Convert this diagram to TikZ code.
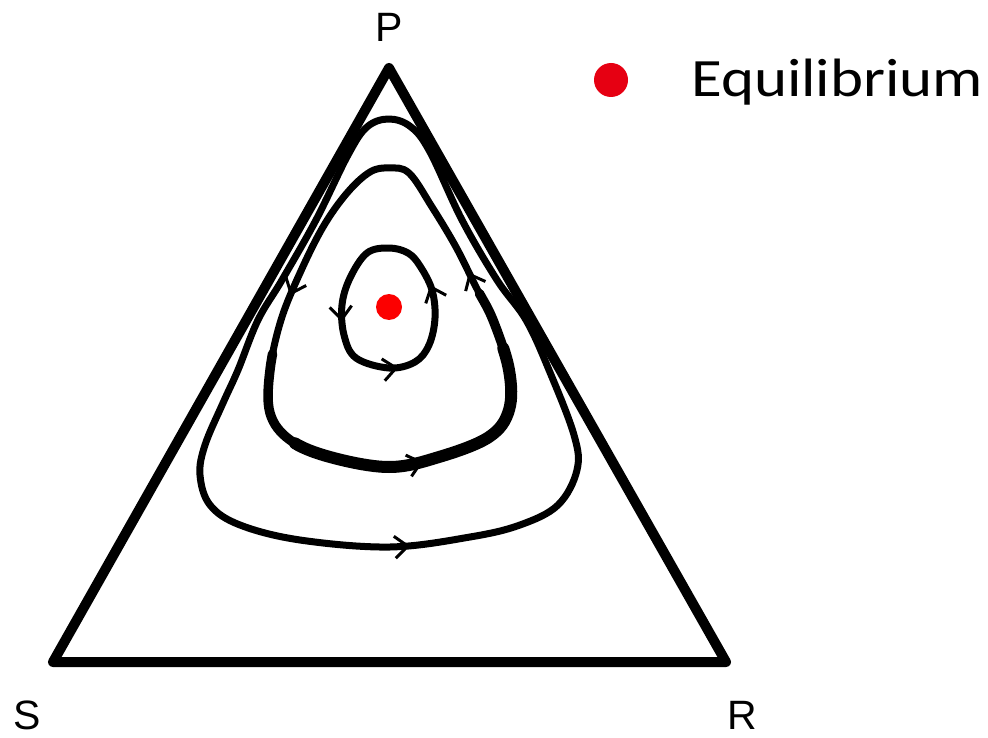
\documentclass[tikz,border=0pt]{standalone}
\usepackage{graphicx}
\usepackage{fontspec}
\newfontfamily\vlabelfont{Liberation Sans}
\newfontfamily\legendfont{Carlito}
\usetikzlibrary{decorations.markings,arrows.meta}
\definecolor{eqred}{RGB}{230,0,18}
\definecolor{dotred}{RGB}{252,0,0}
\newcommand\orbittip{\arrow{Straight Barb[length=13pt,width=22pt,line width=3pt]}}
\tikzset{
  vlabel/.style={font=\vlabelfont\fontsize{41}{48}\selectfont,inner sep=0pt,anchor=base},
  orbitline/.style={draw=black,line width=7pt,line join=round},
  triline/.style={draw=black,line width=10pt,line join=round},
}
\begin{document}
\begin{tikzpicture}[x=1pt,y=-1pt]
\useasboundingbox (0,0) rectangle (988,738);
% simplex
\coordinate (vP) at (389,68);
\coordinate (vS) at (53,662);
\coordinate (vR) at (726,662);
\draw[triline] (vP) -- (vS) -- (vR) -- cycle;
\node[vlabel] (labP) at (389,42) {P};
\node[vlabel] (labS) at (27,729) {S};
\node[vlabel] (labR) at (742,729) {R};
% outer orbit
\draw[orbitline,postaction={decorate},decoration={markings,
   mark=at position 0.50 with {\orbittip}}]
  plot[smooth cycle,tension=0.6] coordinates {(389,119) (367,127) (348,155) (316,220) (282,280) (258,320) (238,370) (223,403) (205,445) (200,475) (210,505) (240,525) (300,540) (390,547) (470,537) (520,525) (558,505) (577,470) (574,435) (549,370) (526,320) (497,280) (462,220) (430,152) (411,127)};
% middle orbit
\def\midorbit{plot[smooth cycle,tension=0.6] coordinates {(389,168) (370,172) (347,193) (323,227) (300,273) (281,320) (270,370) (270,413) (290,440) (330,457) (389,467) (439,457) (489,437) (509,410) (509,370) (493,320) (476,287) (456,247) (432,207) (409,173)}}
\draw[draw=black,line width=9.5pt,line cap=round,dash pattern=on 460pt off 2000pt,dash phase=2250pt] \midorbit;
\draw[draw=black,line width=12pt,line cap=round,dash pattern=on 300pt off 2000pt,dash phase=1990pt] \midorbit;
\draw[orbitline,postaction={decorate},decoration={markings,
   mark=at position 0.175 with {\orbittip},
   mark=at position 0.52 with {\orbittip},
   mark=at position 0.815 with {\orbittip}}] \midorbit;
% inner orbit
\draw[orbitline,postaction={decorate},decoration={markings,
   mark=at position 0.22 with {\orbittip},
   mark=at position 0.465 with {\orbittip},
   mark=at position 0.76 with {\orbittip}}]
  plot[smooth cycle,tension=0.6] coordinates {(389,248) (367,253) (350,278) (342,305) (344,335) (356,358) (389,368) (415,362) (429,345) (435,318) (432,290) (420,266) (408,253)};
% equilibrium
\node[circle,fill=dotred,minimum size=26pt,inner sep=0pt] (eq) at (389,307) {};
% legend
\node[circle,fill=eqred,minimum size=34pt,inner sep=0pt] (legdot) at (611,80) {};
\node[anchor=base west,inner sep=0pt,font=\legendfont\fontsize{54}{60}\selectfont] (legtext) at (691,97) {\scalebox{1.165}[1]{Equilibrium}};
\end{tikzpicture}
\end{document}
